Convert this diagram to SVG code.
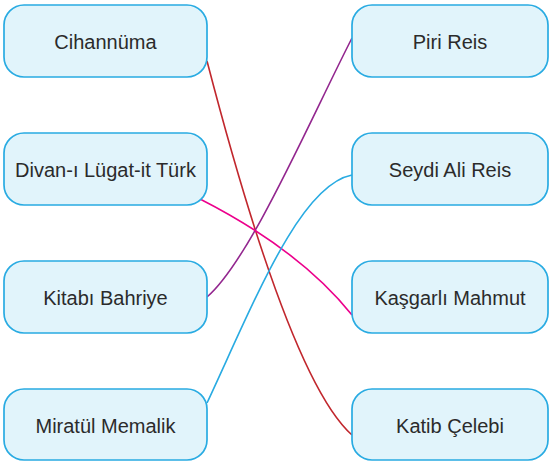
<svg xmlns="http://www.w3.org/2000/svg" width="550" height="462" viewBox="0 0 550 462">
<style>
.box{fill:#e1f4fb;stroke:#29abe2;stroke-width:1.7}
.t{font-family:"Liberation Sans",Arial,sans-serif;font-size:20px;fill:#2b2b2b;text-anchor:middle;dominant-baseline:central}
.c{fill:none;stroke-width:1.6}
</style>
<rect width="550" height="462" fill="#ffffff"/>
<g id="connectors">
<path class="c" stroke="#c1272d" d="M207,61 Q290,380 352,435"/>
<path class="c" stroke="#93278f" d="M207,297 C250,260 310,120 352,38"/>
<path class="c" stroke="#ec008c" d="M200,199 Q300,250 352,315"/>
<path class="c" stroke="#29abe2" d="M207,403 C255,300 300,185 352,175"/>
</g>
<g id="n-cihannuma"><rect class="box" x="4" y="5" width="203" height="72" rx="20"/><text class="t" x="105.5" y="42">Cihannüma</text></g>
<g id="n-divan"><rect class="box" x="4" y="133" width="203" height="72" rx="20"/><text class="t" x="105.5" y="170">Divan-ı Lügat-it Türk</text></g>
<g id="n-kitabi"><rect class="box" x="4" y="261" width="203" height="72" rx="20"/><text class="t" x="105.5" y="298">Kitabı Bahriye</text></g>
<g id="n-miratul"><rect class="box" x="4" y="389" width="203" height="71" rx="20"/><text class="t" x="105.5" y="426">Miratül Memalik</text></g>
<g id="n-piri"><rect class="box" x="352" y="5" width="196" height="72" rx="20"/><text class="t" x="450" y="42">Piri Reis</text></g>
<g id="n-seydi"><rect class="box" x="352" y="133" width="196" height="72" rx="20"/><text class="t" x="450" y="170">Seydi Ali Reis</text></g>
<g id="n-kasgarli"><rect class="box" x="352" y="261" width="196" height="72" rx="20"/><text class="t" x="450" y="298">Kaşgarlı Mahmut</text></g>
<g id="n-katib"><rect class="box" x="352" y="389" width="196" height="71" rx="20"/><text class="t" x="450" y="426">Katib Çelebi</text></g>
</svg>
